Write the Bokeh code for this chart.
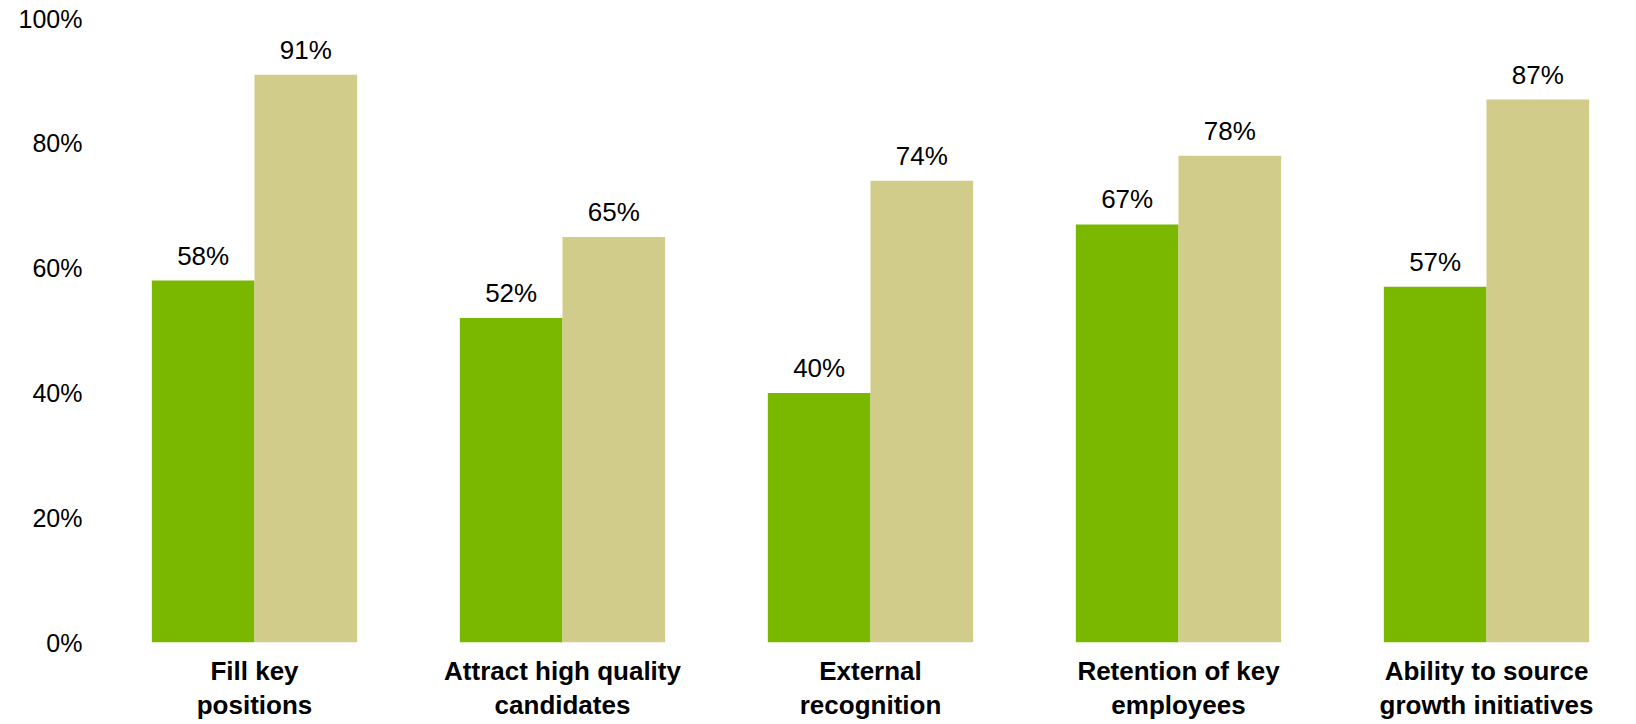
from bokeh.plotting import figure
from bokeh.models import ColumnDataSource, FixedTicker, Range1d, LinearAxis
from bokeh.transform import dodge
from bokeh.core.properties import value
from bokeh.embed import file_html
from bokeh.resources import INLINE

categories = ["Fill key\npositions", "Attract high quality\ncandidates", "External\nrecognition",
              "Retention of key\nemployees", "Ability to source\ngrowth initiatives"]
series_a = [58, 52, 40, 67, 57]
series_b = [91, 65, 74, 78, 87]
y_ticks = [0, 20, 40, 60, 80, 100]

idx = list(range(len(categories)))
src = ColumnDataSource(dict(
    x=idx, a=series_a, b=series_b,
    la=[f"{v}%" for v in series_a], lb=[f"{v}%" for v in series_b],
))

FONT = "Liberation Sans"
W, H = 1636, 724
LEFT, TOP, BOTTOM = 100, 18, 82
frame_w = W - LEFT
cat_w = 308.0
span = frame_w / cat_w

p = figure(width=W, height=H, output_backend="svg", toolbar_location=None,
           x_range=Range1d(-0.5, -0.5 + span), y_range=Range1d(0, 100),
           min_border_left=LEFT, min_border_right=0, min_border_top=TOP,
           min_border_bottom=BOTTOM, x_axis_type=None, y_axis_type=None)
p.outline_line_color = None
p.background_fill_color = "white"
p.border_fill_color = "white"

bw = 1 / 3
p.vbar(x=dodge("x", -bw / 2, range=p.x_range), top="a", width=bw, source=src,
       fill_color="#7AB800", line_color=None)
p.vbar(x=dodge("x", bw / 2, range=p.x_range), top="b", width=bw, source=src,
       fill_color="#D2CC8A", line_color=None)

p.text(x=dodge("x", -bw / 2, range=p.x_range), y="a", text="la", source=src,
       text_align="center", text_baseline="alphabetic", y_offset=-25,
       text_font=value(FONT), text_font_size="26px", text_color="#000000")
p.text(x=dodge("x", bw / 2, range=p.x_range), y="b", text="lb", source=src,
       text_align="center", text_baseline="alphabetic", y_offset=-25,
       text_font=value(FONT), text_font_size="26px", text_color="#000000")

yax = LinearAxis(ticker=FixedTicker(ticks=y_ticks),
                 major_label_overrides={t: f"{t}%" for t in y_ticks})
yax.axis_line_color = None
yax.major_tick_line_color = None
yax.minor_tick_line_color = None
yax.major_label_text_font = FONT
yax.major_label_text_font_size = "25px"
yax.major_label_text_color = "#000000"
yax.major_label_standoff = 12
p.add_layout(yax, "left")

xax = LinearAxis(ticker=FixedTicker(ticks=idx),
                 major_label_overrides={i: c for i, c in zip(idx, categories)})
xax.axis_line_color = None
xax.major_tick_line_color = None
xax.minor_tick_line_color = None
xax.major_tick_out = 0
xax.major_label_text_font = FONT
xax.major_label_text_font_size = "26px"
xax.major_label_text_font_style = "bold"
xax.major_label_text_color = "#000000"
xax.major_label_text_line_height = 1.15
xax.major_label_standoff = 13
p.add_layout(xax, "below")

p.ygrid.ticker = FixedTicker(ticks=y_ticks)
p.xgrid.grid_line_color = None
p.ygrid.grid_line_color = "#D9D9D9"
p.ygrid.grid_line_width = 1
p.ygrid.level = "underlay"

open("out.html", "w").write(file_html(p, INLINE))
